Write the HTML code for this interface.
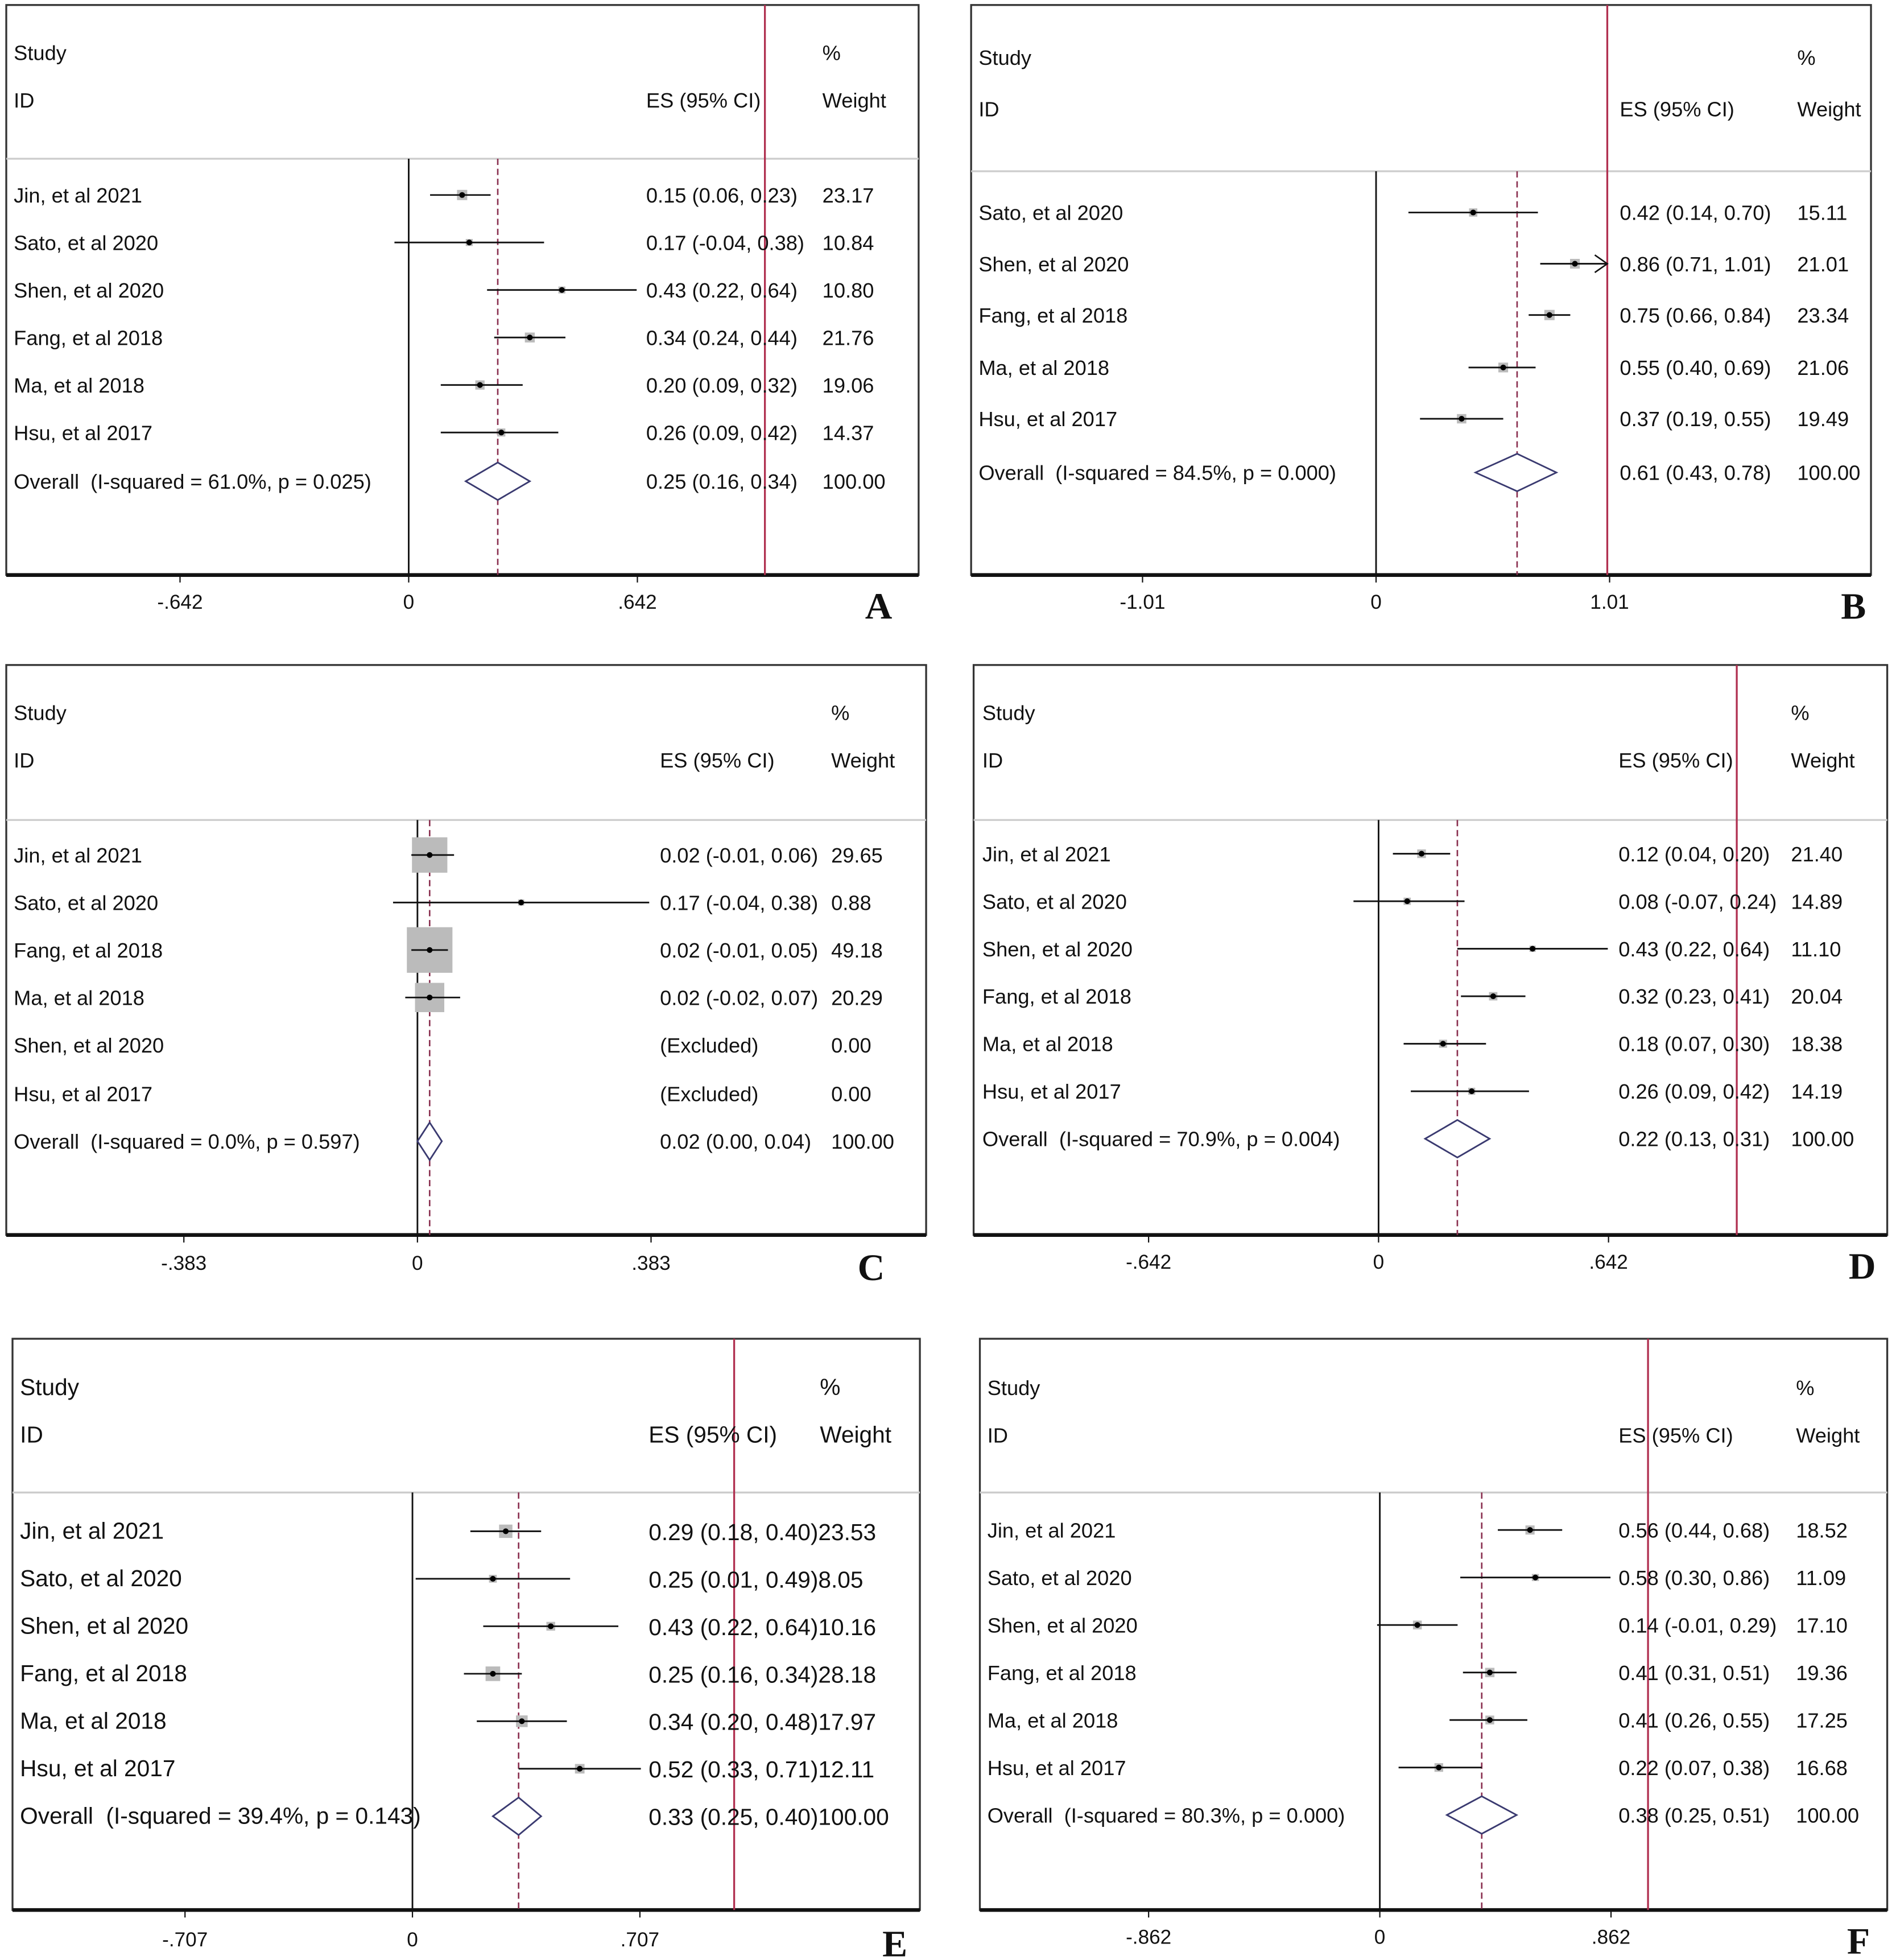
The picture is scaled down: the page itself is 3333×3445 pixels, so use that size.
<!DOCTYPE html>
<html><head><meta charset="utf-8"><style>
html,body{margin:0;padding:0;background:#fff;}
svg{display:block;}
text{font-family:"Liberation Sans",sans-serif;fill:#111;white-space:pre;}
</style></head><body>
<svg id="fig" width="3333" height="3445" viewBox="0 0 1517 1568" xmlns="http://www.w3.org/2000/svg"></svg>
<script>
// ---- data ----
const studiesA = ["Jin, et al 2021","Sato, et al 2020","Shen, et al 2020","Fang, et al 2018","Ma, et al 2018","Hsu, et al 2017"];
const esA = [0.15,0.17,0.43,0.34,0.20,0.26];
const loA = [0.06,-0.04,0.22,0.24,0.09,0.09];
const hiA = [0.23,0.38,0.64,0.44,0.32,0.42];
const wA = [23.17,10.84,10.80,21.76,19.06,14.37];
const overallA = [0.25,0.16,0.34];
const overallLabelA = "Overall  (I-squared = 61.0%, p = 0.025)";

const studiesB = ["Sato, et al 2020","Shen, et al 2020","Fang, et al 2018","Ma, et al 2018","Hsu, et al 2017"];
const esB = [0.42,0.86,0.75,0.55,0.37];
const loB = [0.14,0.71,0.66,0.40,0.19];
const hiB = [0.70,1.01,0.84,0.69,0.55];
const wB = [15.11,21.01,23.34,21.06,19.49];
const overallB = [0.61,0.43,0.78];
const overallLabelB = "Overall  (I-squared = 84.5%, p = 0.000)";

const studiesC = ["Jin, et al 2021","Sato, et al 2020","Fang, et al 2018","Ma, et al 2018","Shen, et al 2020","Hsu, et al 2017"];
const esC = [0.02,0.17,0.02,0.02,null,null];
const loC = [-0.01,-0.04,-0.01,-0.02,null,null];
const hiC = [0.06,0.38,0.05,0.07,null,null];
const wC = [29.65,0.88,49.18,20.29,0.00,0.00];
const overallC = [0.02,0.00,0.04];
const overallLabelC = "Overall  (I-squared = 0.0%, p = 0.597)";

const studiesD = ["Jin, et al 2021","Sato, et al 2020","Shen, et al 2020","Fang, et al 2018","Ma, et al 2018","Hsu, et al 2017"];
const esD = [0.12,0.08,0.43,0.32,0.18,0.26];
const loD = [0.04,-0.07,0.22,0.23,0.07,0.09];
const hiD = [0.20,0.24,0.64,0.41,0.30,0.42];
const wD = [21.40,14.89,11.10,20.04,18.38,14.19];
const overallD = [0.22,0.13,0.31];
const overallLabelD = "Overall  (I-squared = 70.9%, p = 0.004)";

const studiesE = ["Jin, et al 2021","Sato, et al 2020","Shen, et al 2020","Fang, et al 2018","Ma, et al 2018","Hsu, et al 2017"];
const esE = [0.29,0.25,0.43,0.25,0.34,0.52];
const loE = [0.18,0.01,0.22,0.16,0.20,0.33];
const hiE = [0.40,0.49,0.64,0.34,0.48,0.71];
const wE = [23.53,8.05,10.16,28.18,17.97,12.11];
const overallE = [0.33,0.25,0.40];
const overallLabelE = "Overall  (I-squared = 39.4%, p = 0.143)";

const studiesF = ["Jin, et al 2021","Sato, et al 2020","Shen, et al 2020","Fang, et al 2018","Ma, et al 2018","Hsu, et al 2017"];
const esF = [0.56,0.58,0.14,0.41,0.41,0.22];
const loF = [0.44,0.30,-0.01,0.31,0.26,0.07];
const hiF = [0.68,0.86,0.29,0.51,0.55,0.38];
const wF = [18.52,11.09,17.10,19.36,17.25,16.68];
const overallF = [0.38,0.25,0.51];
const overallLabelF = "Overall  (I-squared = 80.3%, p = 0.000)";

const ticksA = [-0.642,0,0.642], ticksB=[-1.01,0,1.01], ticksC=[-0.383,0,0.383];
const ticksD = [-0.642,0,0.642], ticksE=[-0.707,0,0.707], ticksF=[-0.862,0,0.862];

const svg = document.getElementById('fig');
const NS = "http://www.w3.org/2000/svg";
function mk(tag, attrs, parent){const e=document.createElementNS(NS,tag);for(const k in attrs)e.setAttribute(k,attrs[k]);(parent||svg).appendChild(e);return e;}
function fmt(v){ if(v===0) return "0"; let s=Math.abs(v).toFixed(3).replace(/0+$/,''); if(Math.abs(v)>=1) s=Math.abs(v).toFixed(2); else s=s.replace(/^0/,''); return (v<0?"-":"")+s;}
function f2(v){return v.toFixed(2);}

const panels = [
 {id:"a",letter:"A",lx:703,x0:5,x1:735,y0:4,y1:460,sep:127,zero:327,ppu:285,red:true,rows:[156,194,232,270,308,346],oy:385,hy:[42,80],tx:11,esx:517,wx:658,fs:16.5,k:1.7,ty:481,
  s:studiesA,es:esA,lo:loA,hi:hiA,w:wA,ov:overallA,ol:overallLabelA,ticks:ticksA},
 {id:"b",letter:"B",lx:1483,x0:777,x1:1497,y0:4,y1:460,sep:137,zero:1101,ppu:185,red:true,rows:[170,211,252,294,335],oy:378,hy:[46,87],tx:783,esx:1296,wx:1438,fs:16.5,k:1.7,ty:481,
  s:studiesB,es:esB,lo:loB,hi:hiB,w:wB,ov:overallB,ol:overallLabelB,ticks:ticksB},
 {id:"c",letter:"C",lx:697,x0:5,x1:741,y0:532,y1:988,sep:656,zero:334,ppu:488,red:false,rows:[684,722,760,798,836,875],oy:913,hy:[570,608],tx:11,esx:528,wx:665,fs:16.5,k:5.2,ty:1010,
  s:studiesC,es:esC,lo:loC,hi:hiC,w:wC,ov:overallC,ol:overallLabelC,ticks:ticksC},
 {id:"d",letter:"D",lx:1490,x0:779,x1:1510,y0:532,y1:988,sep:656,zero:1103,ppu:286.6,red:true,rows:[683,721,759,797,835,873],oy:911,hy:[570,608],tx:786,esx:1295,wx:1433,fs:16.5,k:1.5,ty:1009,
  s:studiesD,es:esD,lo:loD,hi:hiD,w:wD,ov:overallD,ol:overallLabelD,ticks:ticksD},
 {id:"e",letter:"E",lx:716,x0:10,x1:736,y0:1071,y1:1528,sep:1194,zero:330,ppu:257.4,red:true,rows:[1225,1263,1301,1339,1377,1415],oy:1453,hy:[1110,1148],tx:16,esx:519,wx:656,fs:18.5,k:2.2,ty:1551,concat:true,
  s:studiesE,es:esE,lo:loE,hi:hiE,w:wE,ov:overallE,ol:overallLabelE,ticks:ticksE},
 {id:"f",letter:"F",lx:1487,x0:784,x1:1510,y0:1071,y1:1528,sep:1194,zero:1104,ppu:214.6,red:true,rows:[1224,1262,1300,1338,1376,1414],oy:1452,hy:[1110,1148],tx:790,esx:1295,wx:1437,fs:16.5,k:1.7,ty:1549,
  s:studiesF,es:esF,lo:loF,hi:hiF,w:wF,ov:overallF,ol:overallLabelF,ticks:ticksF}
];

panels.forEach(p=>{
  const g = mk('g',{});
  
  
  const X = v => p.zero + v*p.ppu;
  const box = mk('rect',{x:p.x0,y:p.y0,width:p.x1-p.x0,height:p.y1-p.y0,fill:'none',stroke:'#333','stroke-width':1.5},g);
   
  const ax = mk('line',{x1:p.x0,x2:p.x1,y1:p.y1,y2:p.y1,stroke:'#111','stroke-width':3},g);
   
  const sep = mk('line',{x1:p.x0,x2:p.x1,y1:p.sep,y2:p.sep,stroke:'#ccc','stroke-width':1.5},g);
   
  const zl = mk('line',{x1:p.zero,x2:p.zero,y1:p.sep,y2:p.y1,stroke:'#111','stroke-width':1.3},g);
   
  if(p.red){ const r=mk('line',{x1:X(1),x2:X(1),y1:p.y0,y2:p.y1,stroke:'#b03050','stroke-width':1.5},g);
      }
  const dl = mk('line',{x1:X(p.ov[0]),x2:X(p.ov[0]),y1:p.sep,y2:p.y1,stroke:'#8a3050','stroke-width':1.2,'stroke-dasharray':'5,3'},g);
   
  const hdr=[["Study",p.tx,p.hy[0],'header-study'],["ID",p.tx,p.hy[1],'header-id'],["ES (95% CI)",p.esx,p.hy[1],'header-es'],["%",p.wx,p.hy[0],'header-percent'],["Weight",p.wx,p.hy[1],'header-weight']];
  hdr.forEach(h=>{const t=mk('text',{x:h[1],y:h[2]+6,'font-size':p.fs},g);t.textContent=h[0];
     });
  p.s.forEach((name,i)=>{
    const y=p.rows[i];
    const t=mk('text',{x:p.tx,y:y+6,'font-size':p.fs},g); t.textContent=name;
     
    let es;
    if(p.es[i]===null){ es="(Excluded)"; }
    else{
      es=f2(p.es[i])+" ("+f2(p.lo[i])+", "+f2(p.hi[i])+")";
      const sz=p.k*Math.sqrt(p.w[i]);
      const sq=mk('rect',{x:X(p.es[i])-sz/2,y:y-sz/2,width:sz,height:sz,fill:'#bbb'},g);
       
      const hiX=Math.min(X(p.hi[i]),X(1));
      const ci=mk('line',{x1:X(p.lo[i]),x2:hiX,y1:y,y2:y,stroke:'#111','stroke-width':1.3},g);
       
      if(X(p.hi[i])>X(1)){ const ar=mk('path',{d:`M${hiX-10},${y-7} L${hiX},${y} L${hiX-10},${y+7}`,fill:'none',stroke:'#111','stroke-width':1.2},g);
          }
      const pt=mk('circle',{cx:X(p.es[i]),cy:y,r:2.3,fill:'#000'},g);
       
    }
    const w=p.w[i].toFixed(2);
    if(p.concat){ const e=mk('text',{x:p.esx,y:y+7,'font-size':p.fs},g); e.textContent=es+w;
        }
    else{
      const e=mk('text',{x:p.esx,y:y+6,'font-size':p.fs},g); e.textContent=es;
       
      const wt=mk('text',{x:p.wx,y:y+6,'font-size':p.fs},g); wt.textContent=w;
       
    }
  });
  const oy=p.oy;
  const ot=mk('text',{x:p.tx,y:oy+6,'font-size':p.fs},g); ot.textContent=p.ol;
   
  const dia=mk('polygon',{points:`${X(p.ov[1])},${oy} ${X(p.ov[0])},${oy-15} ${X(p.ov[2])},${oy} ${X(p.ov[0])},${oy+15}`,fill:'#fff',stroke:'#3a3a70','stroke-width':1.3},g);
   
  const oes=f2(p.ov[0])+" ("+f2(p.ov[1])+", "+f2(p.ov[2])+")";
  if(p.concat){ const e=mk('text',{x:p.esx,y:oy+7,'font-size':p.fs},g); e.textContent=oes+"100.00";
      }
  else{ const e=mk('text',{x:p.esx,y:oy+6,'font-size':p.fs},g); e.textContent=oes;
     
    const wt=mk('text',{x:p.wx,y:oy+6,'font-size':p.fs},g); wt.textContent="100.00";
      }
  p.ticks.forEach(v=>{
    const tk=mk('line',{x1:X(v),x2:X(v),y1:p.y1,y2:p.y1+6,stroke:'#111','stroke-width':1},g);
     
    const tl=mk('text',{x:X(v),y:p.ty+6,'font-size':16,'text-anchor':'middle'},g); tl.textContent=fmt(v);
     
  });
  const L=mk('text',{x:p.lx,y:p.ty+14,'font-size':30,'font-weight':'bold','text-anchor':'middle'},g);
  L.setAttribute('style','font-family:"Liberation Serif",serif');
  L.textContent=p.letter;
   
});
</script>
</body></html>
